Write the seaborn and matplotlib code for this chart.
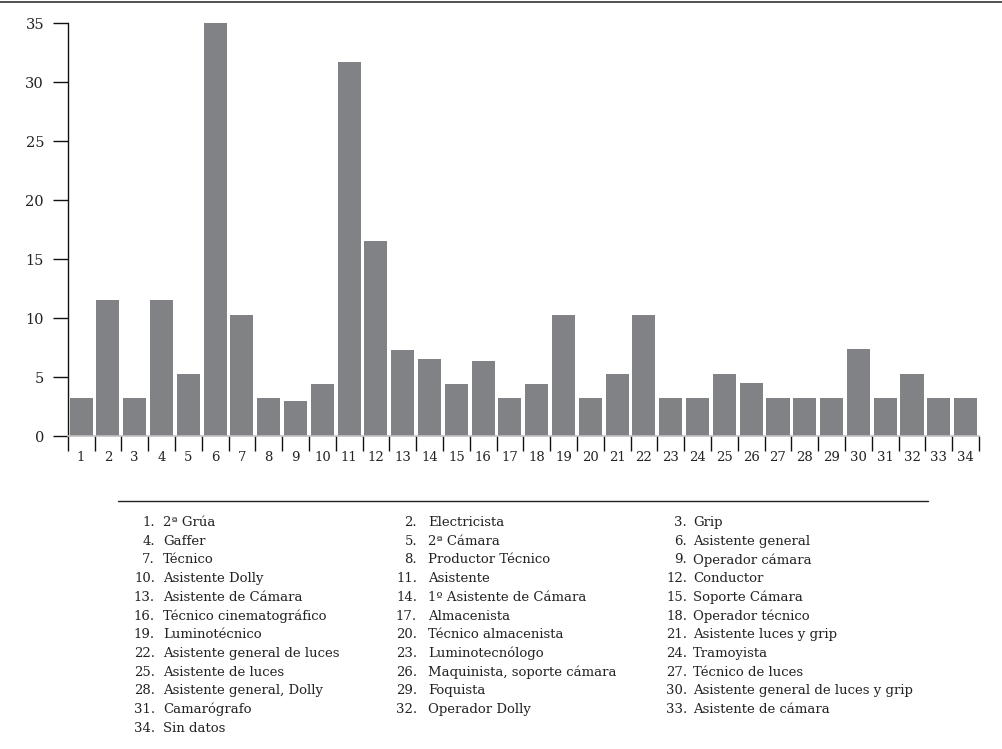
import matplotlib
matplotlib.use("Agg")
import matplotlib.pyplot as plt
from matplotlib.lines import Line2D
from matplotlib.ticker import FixedLocator
import seaborn as sns
import pandas as pd
import numpy as np

categories = [str(i) for i in range(1, 35)]
values = [3.2, 11.5, 3.2, 11.5, 5.3, 35.0, 10.3, 3.2, 3.0, 4.4,
          31.7, 16.5, 7.3, 6.5, 4.4, 6.4, 3.2, 4.4, 10.3, 3.2,
          5.3, 10.3, 3.2, 3.2, 5.3, 4.5, 3.2, 3.2, 3.2, 7.4,
          3.2, 5.3, 3.2, 3.2]
yticks = [0, 5, 10, 15, 20, 25, 30, 35]
legend_names = ["2ª Grúa", "Electricista", "Grip", "Gaffer", "2ª Cámara",
                "Asistente general", "Técnico", "Productor Técnico", "Operador cámara",
                "Asistente Dolly", "Asistente", "Conductor", "Asistente de Cámara",
                "1º Asistente de Cámara", "Soporte Cámara", "Técnico cinematográfico",
                "Almacenista", "Operador técnico", "Luminotécnico", "Técnico almacenista",
                "Asistente luces y grip", "Asistente general de luces", "Luminotecnólogo",
                "Tramoyista", "Asistente de luces", "Maquinista, soporte cámara",
                "Técnico de luces", "Asistente general, Dolly", "Foquista",
                "Asistente general de luces y grip", "Camarógrafo", "Operador Dolly",
                "Asistente de cámara", "Sin datos"]

sns.set_theme(style="white")
plt.rcParams['font.family'] = ['DejaVu Serif']
W, H = 1002, 749
fig = plt.figure(figsize=(W / 100, H / 100), dpi=100)
ax = fig.add_axes([67.7 / W, 1 - 436 / H, (979 - 67.7) / W, (436 - 23.3) / H])

df = pd.DataFrame({"cat": categories, "val": values})
sns.barplot(data=df, x="cat", y="val", color="#818286", saturation=1,
            width=0.86, ax=ax, edgecolor="none")

ax.set_xlim(-0.5, len(categories) - 0.5)
ax.set_ylim(0, 35)
ax.set_xlabel("")
ax.set_ylabel("")
ax.set_yticks(yticks)
ax.set_yticklabels([str(t) for t in yticks], fontsize=10.5, color="#222222")
ax.tick_params(axis="y", direction="out", length=11, width=1.0, color="#111111",
               left=True, pad=6)
ax.set_xticks(range(len(categories)))
ax.set_xticklabels(categories, fontsize=9.5, color="#222222")
ax.tick_params(axis="x", which="major", length=0, pad=11)
ax.xaxis.set_minor_locator(FixedLocator(np.arange(-0.5, len(categories), 1.0)))
ax.tick_params(axis="x", which="minor", direction="out", length=11, width=1.0,
               color="#111111", bottom=True)

for s in ["top", "right"]:
    ax.spines[s].set_visible(False)
ax.spines["left"].set_color("#111111")
ax.spines["left"].set_linewidth(1.0)
ax.spines["bottom"].set_color("#c0c0c0")
ax.spines["bottom"].set_linewidth(1.2)

# top page rule
fig.add_artist(Line2D([0, 1], [1 - 1.5 / H, 1 - 1.5 / H], color="#333333", lw=1.2))
# legend separator rule
fig.add_artist(Line2D([118 / W, 928 / W], [1 - 500.5 / H, 1 - 500.5 / H],
                      color="#222222", lw=1.0))

num_x = [155, 417, 687]
txt_x = [163, 428, 693]
row_y0, row_dy = 522.5, 18.7
for i, name in enumerate(legend_names):
    col = i % 3
    row = i // 3
    y = 1 - (row_y0 + row * row_dy) / H
    fig.text(num_x[col] / W, y, f"{i + 1}.", ha="right", va="center",
             fontsize=9.5, color="#222222")
    fig.text(txt_x[col] / W, y, name, ha="left", va="center",
             fontsize=9.5, color="#222222")

fig.savefig("out.png", dpi=100)
